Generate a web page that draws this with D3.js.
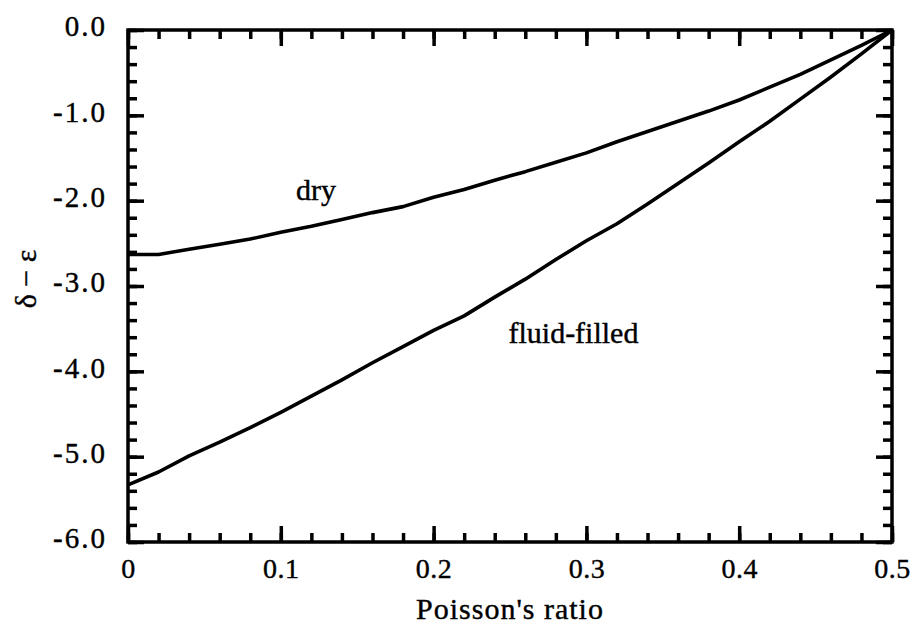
<!DOCTYPE html>
<html>
<head>
<meta charset="utf-8">
<script src="https://cdn.jsdelivr.net/npm/d3@7"></script>
<style>
    body { margin: 0; background: #fff; }
    svg text { font-family: "Liberation Serif", "Times New Roman", serif; fill: #000; stroke: #000; stroke-width: 0.4px; }
</style>
</head>
<body>
<div id="chart"></div>
<script>
// Poisson's ratio sampled every 0.02
var poisson = [0, 0.02, 0.04, 0.06, 0.08, 0.10, 0.12, 0.14, 0.16, 0.18, 0.20, 0.22, 0.24,
    0.26, 0.28, 0.30, 0.32, 0.34, 0.36, 0.38, 0.40, 0.42, 0.44, 0.46, 0.48, 0.50];

// delta - epsilon for dry cracks
var dryValues = [-2.63, -2.63, -2.57, -2.51, -2.45, -2.37, -2.30, -2.22, -2.14, -2.07, -1.96,
    -1.87, -1.76, -1.66, -1.55, -1.44, -1.31, -1.19, -1.07, -0.95, -0.82, -0.67, -0.52, -0.35, -0.18, 0];

// delta - epsilon for fluid-filled cracks
var fluidValues = [-5.33, -5.18, -4.99, -4.83, -4.66, -4.48, -4.29, -4.10, -3.90, -3.71, -3.52,
    -3.35, -3.13, -2.92, -2.69, -2.47, -2.27, -2.04, -1.80, -1.56, -1.31, -1.07, -0.81, -0.55, -0.28, 0];

var xTicks = [0, 0.1, 0.2, 0.3, 0.4, 0.5];
var yTicks = [0, -1, -2, -3, -4, -5, -6];

// curve labels, placed in data units
var curveLabels = [
    {text: "dry", x: 0.110, y: -1.99},
    {text: "fluid-filled", x: 0.249, y: -3.67}
];

var margin = {top: 30, right: 26, bottom: 82, left: 128};
var width = 918 - margin.left - margin.right;
var height = 624 - margin.top - margin.bottom;

var svg = d3.select("#chart").append("svg")
    .attr("width", 918)
    .attr("height", 624);

var g = svg.append("g")
    .attr("transform", "translate(" + margin.left + "," + margin.top + ")");

var x = d3.scaleLinear().domain([0, 0.5]).range([0, width]);
var y = d3.scaleLinear().domain([-6, 0]).range([height, 0]);

// minor ticks every 0.02 on x and 0.2 on y
var xMinor = d3.range(0, 26).map(function (i) { return i * 0.02; });
var yMinor = d3.range(0, 31).map(function (i) { return -i * 0.2; });

function fmtX(d) { return d === 0 ? "0" : d.toFixed(1); }
function fmtY(d) { return (d === 0 ? 0 : d).toFixed(1); }

function styleAxis(sel) {
    sel.select(".domain").remove();
    sel.selectAll("line").attr("stroke", "#000").attr("stroke-width", 3.5);
}

// minor ticks on all four sides
g.append("g").attr("transform", "translate(0," + height + ")")
    .call(d3.axisBottom(x).tickValues(xMinor).tickSize(-9).tickFormat(""))
    .call(styleAxis);
g.append("g")
    .call(d3.axisTop(x).tickValues(xMinor).tickSize(-9).tickFormat(""))
    .call(styleAxis);
g.append("g")
    .call(d3.axisLeft(y).tickValues(yMinor).tickSize(-9).tickFormat(""))
    .call(styleAxis);
g.append("g").attr("transform", "translate(" + width + ",0)")
    .call(d3.axisRight(y).tickValues(yMinor).tickSize(-9).tickFormat(""))
    .call(styleAxis);

// major ticks with labels
var xAxis = g.append("g").attr("transform", "translate(0," + height + ")")
    .call(d3.axisBottom(x).tickValues(xTicks).tickSize(-16).tickPadding(16).tickFormat(fmtX))
    .call(styleAxis);
xAxis.selectAll("text").style("font-size", "28px").style("letter-spacing", "0.5px");

g.append("g")
    .call(d3.axisTop(x).tickValues(xTicks).tickSize(-16).tickFormat(""))
    .call(styleAxis);

var yAxis = g.append("g")
    .call(d3.axisLeft(y).tickValues(yTicks).tickSize(-16).tickPadding(21).tickFormat(fmtY))
    .call(styleAxis);
yAxis.selectAll("text").style("font-size", "29px").style("letter-spacing", "2px").attr("dy", "0.2em");

g.append("g").attr("transform", "translate(" + width + ",0)")
    .call(d3.axisRight(y).tickValues(yTicks).tickSize(-16).tickFormat(""))
    .call(styleAxis);

// frame
g.append("rect")
    .attr("width", width)
    .attr("height", height)
    .attr("fill", "none")
    .attr("stroke", "#000")
    .attr("stroke-width", 3.5);

// curves
var line = d3.line()
    .x(function (d) { return x(d[0]); })
    .y(function (d) { return y(d[1]); });

[dryValues, fluidValues].forEach(function (vals) {
    g.append("path")
        .datum(poisson.map(function (p, i) { return [p, vals[i]]; }))
        .attr("fill", "none")
        .attr("stroke", "#000")
        .attr("stroke-width", 3.6)
        .attr("stroke-linejoin", "round")
        .attr("d", line);
});

g.selectAll(".curve-label")
    .data(curveLabels)
    .enter()
    .append("text")
    .attr("class", "curve-label")
    .attr("x", function (d) { return x(d.x); })
    .attr("y", function (d) { return y(d.y); })
    .style("font-size", "30px")
    .text(function (d) { return d.text; });

// axis titles
svg.append("text")
    .attr("x", margin.left + width / 2)
    .attr("y", 619)
    .attr("text-anchor", "middle")
    .style("font-size", "30px")
    .style("letter-spacing", "1px")
    .text("Poisson's ratio");

svg.append("text")
    .attr("transform", "translate(36,279) rotate(-90)")
    .attr("text-anchor", "middle")
    .style("font-size", "30px")
    .text("δ − ε");
</script>
</body>
</html>
